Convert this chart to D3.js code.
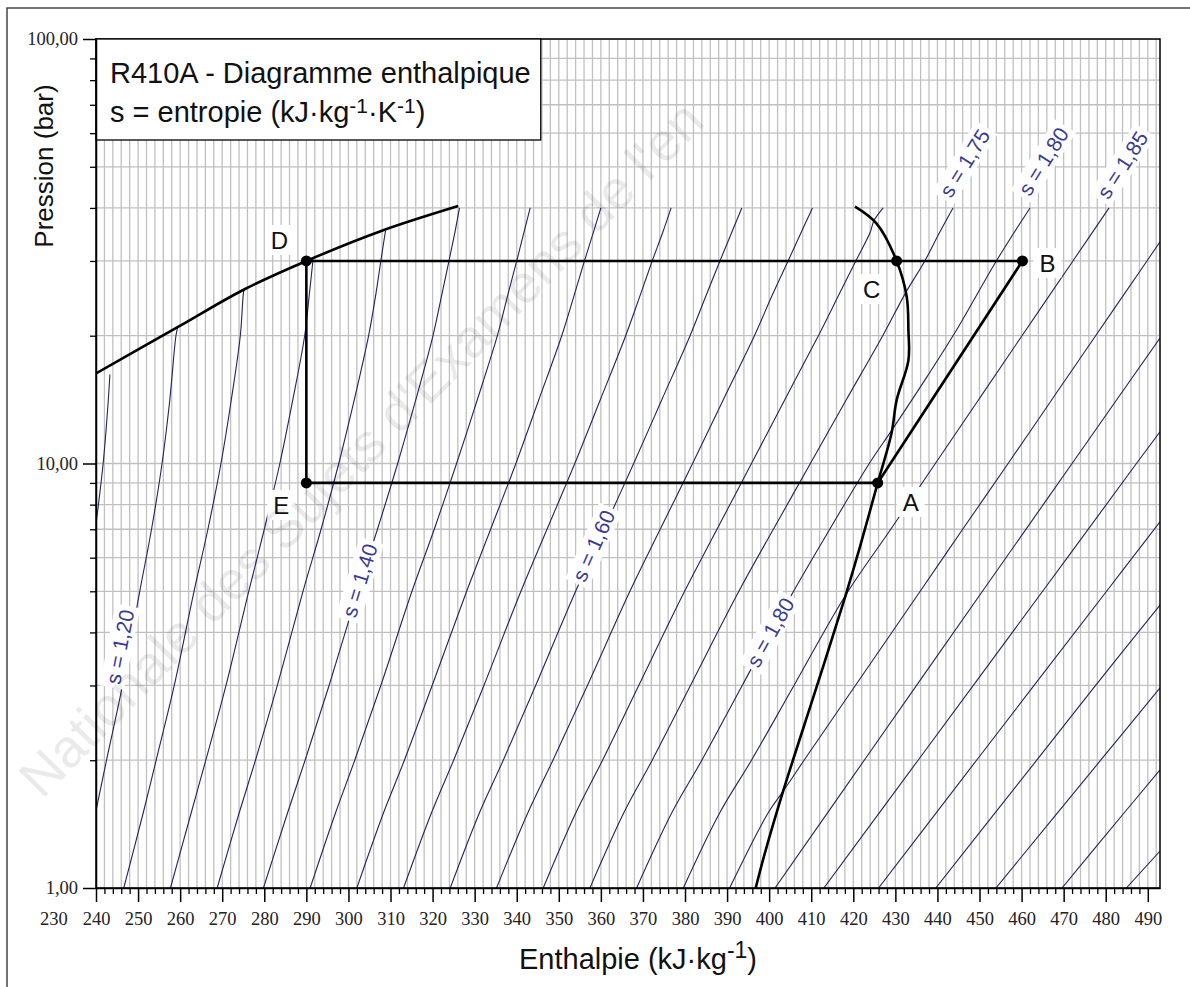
<!DOCTYPE html>
<html><head><meta charset="utf-8">
<script src="https://cdn.jsdelivr.net/npm/d3@7"></script>
<style>body{margin:0;background:#fff}svg{display:block}</style>
</head><body>
<svg id="c" width="1190" height="987"></svg>
<script>
// ---------------- DATA ----------------
const hTickValues = [240,250,260,270,280,290,300,310,320,330,340,350,360,370,380,390,400,410,420,430,440,450,460,470,480,490];
const hExtraLabel = 230;
const pTickValues = [1,10,100];
const pTickLabels = ["1,00","10,00","100,00"];

// saturated liquid curve [h, p]
const liquidSat = [[240,16.3],[259.6,21.0],[275.2,25.7],[290,30],[307.8,35.3],[326.1,40.4]];
// saturated vapour curve [h, p]
const vaporSat = [[420.4,40.3],[425.5,36.8],[430.3,30],[432.7,24.7],[433.1,20.6],[433.1,17.5],[430.3,14.1],[429.1,11.8],[425.8,9],[421.6,6.37],[418.2,4.9],[411.3,2.98],[403.4,1.70],[399.0,1.21],[396.8,1.0]];

// isentropes s (kJ/kg/K) and their read points [h, p]
const isoS = [1.15,1.20,1.25,1.30,1.35,1.40,1.45,1.50,1.55,1.60,1.65,1.70,1.75,1.80,1.85,1.90,1.95,2.00,2.05,2.10,2.15,2.20,2.25];
const iso115 = [[240,7.2],[241.7,10],[242.9,14],[243.3,16.2]];
const iso120 = [[240,1.52],[242.5,2],[246.3,3],[250.4,5],[253.2,7],[255.7,10],[257.5,14],[259.0,20],[259.4,20.9]];
const iso125 = [[246.6,1],[251.2,1.5],[254.3,2],[258.6,3],[263.3,5],[266.6,7],[269.7,10],[272.1,14],[274.3,20],[275.0,25],[275.2,25.7]];
const iso130 = [[257.7,1],[262.6,1.5],[266.1,2],[270.9,3],[276.3,5],[280.0,7],[283.7,10],[286.7,14],[289.6,20],[290.7,25],[291.6,30.3]];
const iso135 = [[268.8,1],[274.0,1.5],[277.9,2],[283.1,3],[289.2,5],[293.5,7],[297.7,10],[301.3,14],[304.8,20],[306.5,25],[307.7,30],[308.8,35.3]];
const iso140 = [[279.8,1],[285.5,1.5],[289.7,2],[295.4,3],[302.2,5],[306.9,7],[311.7,10],[315.9,14],[320.1,20],[322.2,25],[323.9,30],[325.3,35],[326.4,40]];
const iso145 = [[290.9,1],[296.9,1.5],[301.5,2],[307.7,3],[315.1,5],[320.4,7],[325.7,10],[330.5,14],[335.4,20],[337.9,25],[340.0,30],[341.7,35],[343.2,40]];
const iso150 = [[302.0,1],[308.3,1.5],[313.3,2],[319.9,3],[328.1,5],[333.8,7],[339.8,10],[345.1,14],[350.7,20],[353.7,25],[356.1,30],[358.2,35],[360.0,40]];
const iso155 = [[313.1,1],[319.7,1.5],[325.0,2],[332.2,3],[341.0,5],[347.2,7],[353.8,10],[359.7,14],[365.9,20],[369.4,25],[372.2,30],[374.7,35],[376.7,40]];
const iso160 = [[324.2,1],[331.1,1.5],[336.8,2],[344.5,3],[354.0,5],[360.7,7],[367.8,10],[374.3,14],[381.2,20],[385.1,25],[388.3,30],[391.1,35],[393.5,40]];
const iso165 = [[335.2,1],[342.6,1.5],[348.6,2],[356.8,3],[366.9,5],[374.1,7],[381.8,10],[388.9,14],[396.5,20],[400.8,25],[404.5,30],[407.6,35],[410.3,40]];
const iso170 = [[346.3,1],[354.0,1.5],[360.4,2],[369.0,3],[379.9,5],[387.6,7],[395.8,10],[403.5,14],[411.7,20],[416.6,25],[420.6,30],[424.0,35],[424.9,37.3],[427.1,40]];
const iso175 = [[357.4,1],[365.4,1.5],[372.2,2],[381.3,3],[392.8,5],[401.0,7],[409.8,10],[418.1,14],[427.0,20],[432.5,25.3],[437.0,30],[440.5,35],[443.7,40]];
const iso180 = [[368.5,1],[376.8,1.5],[384.0,2],[393.6,3],[405.8,5],[414.4,7],[423.8,10],[429.2,12],[437.5,16],[444.5,20.6],[454.0,30],[462.0,40]];
const iso185 = [[379.6,1],[388.2,1.5],[395.8,2],[405.9,3],[418.2,4.9],[428.9,7],[439.5,10],[449.5,14],[460.1,20],[472.2,30],[480.8,40]];
const iso190 = [[390.6,1],[399.7,1.5],[403.5,1.7],[408.3,2],[420.5,3],[435.9,5],[446.0,7],[456.8,10],[466.9,14],[477.6,20],[489.8,30],[492.9,33.3]];
const iso195 = [[401.4,1],[422.6,2],[450.7,5],[472.0,10],[492.9,19.75]];
const iso200 = [[413.0,1],[435.4,2],[465.0,5],[487.3,10],[492.9,11.88]];
const iso205 = [[426.0,1],[449.3,2],[480.2,5],[492.9,7.29]];
const iso210 = [[439.6,1],[463.6,2],[477.6,3],[492.9,4.64]];
const iso215 = [[453.9,1],[478.8,2],[492.9,2.96]];
const iso220 = [[469.6,1],[484.3,1.5],[492.9,1.897]];
const iso225 = [[484.9,1],[492.9,1.222]];
const isoLines = [iso115,iso120,iso125,iso130,iso135,iso140,iso145,iso150,iso155,iso160,iso165,iso170,iso175,iso180,iso185,iso190,iso195,iso200,iso205,iso210,iso215,iso220,iso225];

// isentrope labels
const sLabelText = ["s = 1,20","s = 1,40","s = 1,60","s = 1,80","s = 1,75","s = 1,80","s = 1,85"];
const sLabelH = [245.7, 302.7, 358.3, 400.3, 446.5, 465.2, 484.0];
const sLabelP = [3.70, 5.3, 6.4, 4.0, 51.0, 51.5, 50.5];
const sLabelAngle = [-79, -73, -66, -61, -58, -58, -57];

// refrigeration cycle points
const cycleNames = ["D","C","B","E","A"];
const cycleH = [290, 430.3, 460.2, 290, 425.8];
const cycleP = [30, 30, 30, 9, 9];
const cyclePath = ["E","D","B","A","E"];

// ---------------- DRAWING ----------------
const W = 1190, H = 987;
const L = 96, R = 1160, T = 39, B = 888;
const svg = d3.select("#c");
const x = d3.scaleLinear().domain([240, 492.9]).range([L, R]);
const y = d3.scaleLog().domain([1, 100]).range([B, T]);
const sans = "Liberation Sans, Arial, sans-serif";
const serif = "Liberation Serif, Times New Roman, serif";

svg.append("rect").attr("width",W).attr("height",H).attr("fill","#fff");
svg.append("rect").attr("x",7).attr("y",8).attr("width",1400).attr("height",1400)
  .attr("fill","none").attr("stroke","#444").attr("stroke-width",1.5);

svg.append("defs").append("clipPath").attr("id","plot")
  .append("rect").attr("x",L).attr("y",T).attr("width",R-L).attr("height",B-T);

const plot = svg.append("g").attr("clip-path","url(#plot)");

// grid
const gridH = d3.range(240, 493, 2);
plot.append("g").selectAll("line").data(gridH).join("line")
  .attr("x1",d=>x(d)).attr("x2",d=>x(d)).attr("y1",T).attr("y2",B)
  .attr("stroke","#c0c0c0").attr("stroke-width",1.3);
const gridP = [];
[1,10].forEach(dec=>{for(let k=1;k<10;k++) gridP.push(dec*k);});
gridP.push(100);
plot.append("g").selectAll("line").data(gridP).join("line")
  .attr("x1",L).attr("x2",R).attr("y1",d=>y(d)).attr("y2",d=>y(d))
  .attr("stroke","#c0c0c0").attr("stroke-width",1.3);

const line = d3.line().x(d=>x(d[0])).y(d=>y(d[1]));
const smooth = d3.line().x(d=>x(d[0])).y(d=>y(d[1])).curve(d3.curveCatmullRom.alpha(0.5));

// isentropes
plot.append("g").selectAll("path").data(isoLines).join("path")
  .attr("d", smooth).attr("fill","none").attr("stroke","#23235e").attr("stroke-width",1.1);

// saturation curves
plot.append("path").datum(liquidSat).attr("d",smooth).attr("fill","none").attr("stroke","#000").attr("stroke-width",2.6);
plot.append("path").datum(vaporSat).attr("d",smooth).attr("fill","none").attr("stroke","#000").attr("stroke-width",2.6);

// isentrope labels
const lab = plot.append("g").selectAll("g").data(sLabelText).join("g")
  .attr("transform",(d,i)=>`translate(${x(sLabelH[i])},${y(sLabelP[i])}) rotate(${sLabelAngle[i]})`);
lab.append("rect");
lab.append("text").text(d=>d).attr("text-anchor","middle").attr("dy","0.35em")
  .attr("font-family",sans).attr("font-size",21).attr("fill","#3b3b96");
lab.each(function(){
  const g = d3.select(this);
  const bb = g.select("text").node().getBBox();
  g.select("rect").attr("x",bb.x-4).attr("y",bb.y-1).attr("width",bb.width+8).attr("height",bb.height+2).attr("fill","#fff");
});

// cycle
const cyc = cyclePath.map(n=>{const i=cycleNames.indexOf(n);return [cycleH[i],cycleP[i]];});
plot.append("path").datum(cyc).attr("d",line).attr("fill","none").attr("stroke","#000").attr("stroke-width",2.6).attr("stroke-linejoin","round");
plot.append("g").selectAll("circle").data(cycleNames).join("circle")
  .attr("cx",(d,i)=>x(cycleH[i])).attr("cy",(d,i)=>y(cycleP[i])).attr("r",5.5).attr("fill","#000");

const labOff = {D:[-27,-21],C:[-25,28],B:[25,2],E:[-25,22],A:[33,19]};
const pl = svg.append("g").selectAll("g").data(cycleNames).join("g")
  .attr("transform",(d,i)=>`translate(${x(cycleH[i])+labOff[d][0]},${y(cycleP[i])+labOff[d][1]})`);
pl.append("rect").attr("x",-14).attr("y",-15).attr("width",28).attr("height",30).attr("fill","#fff");
pl.append("text").text(d=>d).attr("text-anchor","middle").attr("dy","0.36em")
  .attr("font-family",sans).attr("font-size",24).attr("fill","#111");

// frame
svg.append("rect").attr("x",L).attr("y",T).attr("width",R-L).attr("height",B-T)
  .attr("fill","none").attr("stroke","#000").attr("stroke-width",1.5);

// title box
const tb = svg.append("g");
const tbRect = tb.append("rect").attr("x",L).attr("y",T).attr("height",101).attr("fill","#fff").attr("stroke","#000").attr("stroke-width",1.3);
const t1 = tb.append("text").attr("x",110).attr("y",83).attr("font-family",sans).attr("font-size",29).attr("fill","#111")
  .text("R410A - Diagramme enthalpique");
const t2 = tb.append("text").attr("x",110).attr("y",122).attr("font-family",sans).attr("font-size",29).attr("fill","#111");
t2.append("tspan").text("s = entropie (kJ·kg");
t2.append("tspan").attr("font-size",21).attr("dy",-9).text("-1");
t2.append("tspan").attr("dy",9).text("·K");
t2.append("tspan").attr("font-size",21).attr("dy",-9).text("-1");
t2.append("tspan").attr("dy",9).text(")");
const tw = Math.max(t1.node().getBBox().width, t2.node().getBBox().width);
tbRect.attr("width", tw + 14 + 10);

// axes
const xAxis = svg.append("g").attr("transform",`translate(0,${B})`)
  .call(d3.axisBottom(x).tickValues(hTickValues).tickSize(14).tickSizeOuter(0).tickPadding(10));
xAxis.select(".domain").attr("stroke","#000").attr("stroke-width",1.5);
xAxis.selectAll(".tick line").attr("stroke","#000").attr("stroke-width",1.5);
xAxis.selectAll("text").attr("font-family",serif).attr("font-size",18.5).attr("fill","#222");
const xMinor = svg.append("g").attr("transform",`translate(0,${B})`)
  .call(d3.axisBottom(x).tickValues(d3.range(242,492,2).filter(v=>v%10!==0)).tickSize(6).tickFormat(""));
xMinor.select(".domain").remove();
xMinor.selectAll("line").attr("stroke","#000").attr("stroke-width",1.3);
svg.append("text").attr("x",x(hExtraLabel)).attr("y",B+24+13).attr("text-anchor","middle")
  .attr("font-family",serif).attr("font-size",18.5).attr("fill","#222").text(hExtraLabel);

const yAxis = svg.append("g").attr("transform",`translate(${L},0)`)
  .call(d3.axisLeft(y).tickValues(pTickValues).tickSize(13).tickSizeOuter(0).tickPadding(5)
    .tickFormat((d,i)=>pTickLabels[i]));
yAxis.select(".domain").attr("stroke","#000").attr("stroke-width",1.5);
yAxis.selectAll(".tick line").attr("stroke","#000").attr("stroke-width",1.5);
yAxis.selectAll("text").attr("font-family",serif).attr("font-size",18.5).attr("fill","#222");
const yMinor = svg.append("g").attr("transform",`translate(${L},0)`)
  .call(d3.axisLeft(y).tickValues(gridP.filter(v=>v!==1&&v!==10&&v!==100)).tickSize(6).tickFormat(""));
yMinor.select(".domain").remove();
yMinor.selectAll("line").attr("stroke","#000").attr("stroke-width",1.3);

// axis titles
svg.append("text").attr("transform","translate(53,166) rotate(-90)").attr("text-anchor","middle")
  .attr("font-family",sans).attr("font-size",26).attr("fill","#111").text("Pression (bar)");
const xt = svg.append("text").attr("x",638).attr("y",969).attr("text-anchor","middle")
  .attr("font-family",sans).attr("font-size",29).attr("fill","#111");
xt.append("tspan").text("Enthalpie (kJ·kg");
xt.append("tspan").attr("font-size",23).attr("dy",-11).text("-1");
xt.append("tspan").attr("dy",11).text(")");

// watermark
svg.append("text").attr("transform","translate(42,800) rotate(-45.5)")
  .attr("font-family",sans).attr("font-size",54).attr("fill","#000").attr("opacity",0.08)
  .text("Nationale des Sujets d'Examens de l'en");
</script>
</body></html>
